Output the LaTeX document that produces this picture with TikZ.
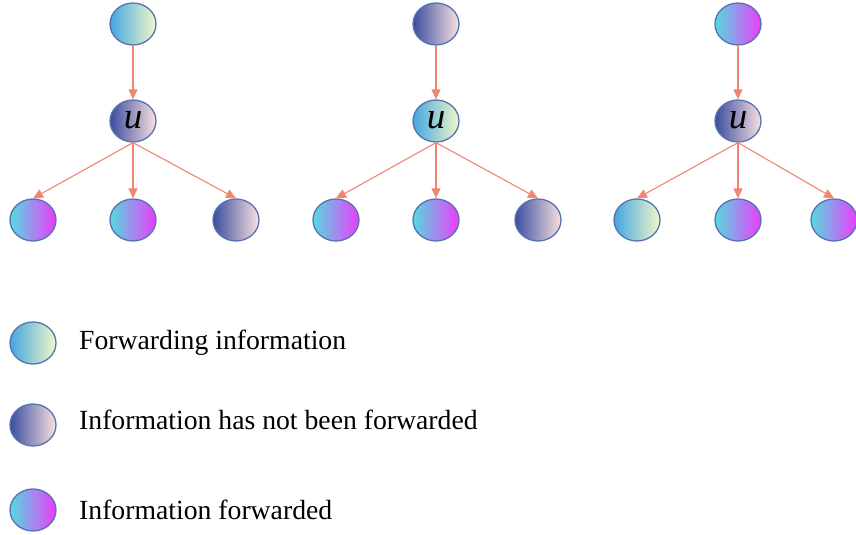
\documentclass[tikz,border=0pt]{standalone}
\usepackage{fontspec}
\setmainfont{Liberation Serif}
\usetikzlibrary{arrows.meta,shapes.geometric}
\definecolor{aL}{HTML}{45A6E2}
\definecolor{aR}{HTML}{F2F7C8}
\definecolor{bL}{HTML}{3A4E9E}
\definecolor{bR}{HTML}{FAE0E0}
\definecolor{cL}{HTML}{55DAE0}
\definecolor{cR}{HTML}{EC3CFA}
\definecolor{rim}{HTML}{5573B0}
\definecolor{arr}{HTML}{F08672}
\tikzset{
  nd/.style={ellipse,draw=rim,line width=1.3pt,minimum width=46pt,minimum height=42pt,inner sep=0pt},
  fwding/.style={nd,left color=aL,right color=aR},
  notfw/.style={nd,left color=bL,right color=bR},
  fwded/.style={nd,left color=cL,right color=cR},
  conn/.style={draw=arr,line width=1.1pt,-{Triangle[length=10pt,width=9pt]}},
  ulab/.style={font=\fontsize{37}{37}\selectfont\itshape},
  leg/.style={anchor=west,font=\fontsize{27.7}{30}\selectfont,inner sep=0pt}
}
\begin{document}
\begin{tikzpicture}[x=1pt,y=-1pt]
\useasboundingbox (0,0) rectangle (856,535);
% tree 1
\node[fwding] (t1) at (133,24) {};
\node[notfw,ulab] (u1) at (133,121) {\raisebox{1pt}{u}};
\node[fwded] (a1) at (33,220) {};
\node[fwded] (b1) at (133,220) {};
\node[notfw] (c1) at (236,220) {};
% tree 2
\node[notfw] (t2) at (436,24) {};
\node[fwding,ulab] (u2) at (436,121) {\raisebox{1pt}{u}};
\node[fwded] (a2) at (336,220) {};
\node[fwded] (b2) at (436,220) {};
\node[notfw] (c2) at (538,220) {};
% tree 3
\node[fwded] (t3) at (738,24) {};
\node[notfw,ulab] (u3) at (738,121) {\raisebox{1pt}{u}};
\node[fwding] (a3) at (637,220) {};
\node[fwded] (b3) at (738,220) {};
\node[fwded] (c3) at (834,220) {};
\foreach \i in {1,2,3}{
  \draw[conn] (t\i) -- (u\i);
  \draw[conn] (u\i.south) -- (a\i.north);
  \draw[conn] (u\i.south) -- (b\i);
  \draw[conn] (u\i.south) -- (c\i.north);
}
% legend
\node[fwding] (l1) at (33,343) {};
\node[notfw] (l2) at (33,425) {};
\node[fwded] (l3) at (33,510) {};
\node[leg] (t1l) at (79,343) {Forwarding information};
\node[leg] (t2l) at (79,420) {Information has not been forwarded};
\node[leg] (t3l) at (79,510) {Information forwarded};
\end{tikzpicture}
\end{document}
